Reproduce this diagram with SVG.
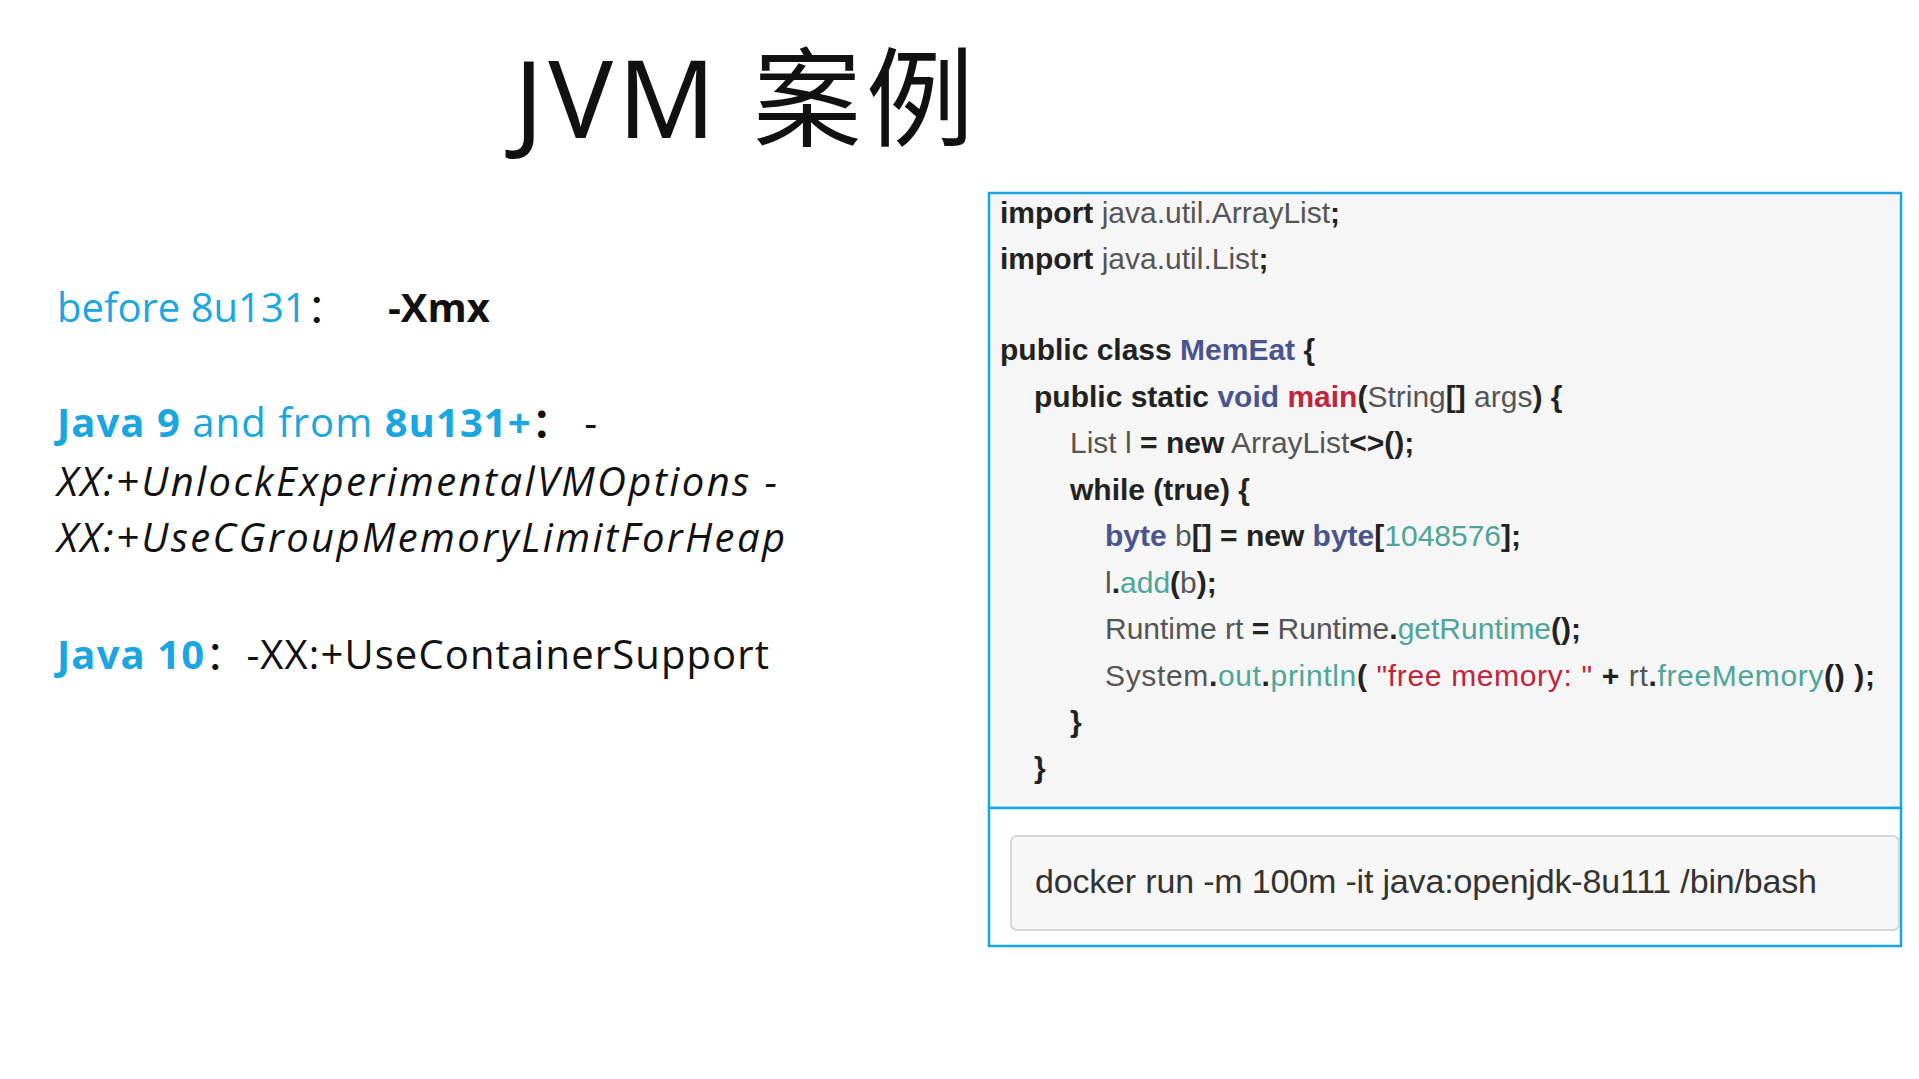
<svg xmlns="http://www.w3.org/2000/svg" width="1919" height="1079" viewBox="0 0 1919 1079">
<style>
.t{font-family:"Noto Sans","Noto Sans CJK SC",sans-serif}
.l{font-family:"Open Sans","Noto Sans CJK SC",sans-serif;font-size:40px}
.c{fill:#1aa6e0}
.k{font-family:"Liberation Sans",Arial,sans-serif;font-size:30px;fill:#555}
.b{font-weight:bold;fill:#222}
.p{fill:#4a5590;font-weight:bold}
.g{fill:#4fa59a}
.r{fill:#c0253a}
</style>
<rect width="1919" height="1079" fill="#fff"/>
<text class="t" x="514" y="138" font-size="108" fill="#111" textLength="460">JVM 案例</text>
<g id="left-text">
<text class="l" x="57" y="322"><tspan class="c">before 8u131</tspan><tspan fill="#111">：</tspan><tspan x="388" font-weight="bold" fill="#111">-Xmx</tspan></text>
<text class="l" x="57" y="437" textLength="540"><tspan class="c" font-weight="bold">Java 9</tspan><tspan class="c"> and from </tspan><tspan class="c" font-weight="bold">8u131+</tspan><tspan fill="#111" font-weight="bold">：</tspan><tspan fill="#111">  -</tspan></text>
<text class="l" x="57" y="496" font-style="italic" fill="#111" textLength="720">XX:+UnlockExperimentalVMOptions -</text>
<text class="l" x="57" y="552" font-style="italic" fill="#111" textLength="728">XX:+UseCGroupMemoryLimitForHeap</text>
<text class="l" x="57" y="669" textLength="712"><tspan class="c" font-weight="bold">Java 10</tspan><tspan fill="#111">：-XX:+UseContainerSupport</tspan></text>
</g>
<g id="code-box">
<rect x="989" y="193" width="912" height="615" fill="#f6f6f6" stroke="#1aa6e0" stroke-width="2.5"/>
<text class="k" x="1000" y="223"><tspan class="b">import</tspan> java.util.ArrayList<tspan class="b">;</tspan></text>
<text class="k" x="1000" y="269"><tspan class="b">import</tspan> java.util.List<tspan class="b">;</tspan></text>
<text class="k" x="1000" y="360"><tspan class="b">public class </tspan><tspan class="p">MemEat</tspan><tspan class="b"> {</tspan></text>
<text class="k" x="1034" y="407"><tspan class="b">public static </tspan><tspan class="p">void </tspan><tspan class="r" font-weight="bold">main</tspan><tspan class="b">(</tspan>String<tspan class="b">[]</tspan> args<tspan class="b">) {</tspan></text>
<text class="k" x="1070" y="453">List l <tspan class="b">= new</tspan> ArrayList<tspan class="b">&lt;&gt;();</tspan></text>
<text class="k" x="1070" y="500"><tspan class="b">while (true) {</tspan></text>
<text class="k" x="1105" y="546"><tspan class="p">byte </tspan>b<tspan class="b">[] = new </tspan><tspan class="p">byte</tspan><tspan class="b">[</tspan><tspan class="g">1048576</tspan><tspan class="b">];</tspan></text>
<text class="k" x="1105" y="593">l<tspan class="b">.</tspan><tspan class="g">add</tspan><tspan class="b">(</tspan>b<tspan class="b">);</tspan></text>
<text class="k" x="1105" y="639">Runtime rt <tspan class="b">=</tspan> Runtime<tspan class="b">.</tspan><tspan class="g">getRuntime</tspan><tspan class="b">();</tspan></text>
<text class="k" x="1105" y="686" textLength="770">System<tspan class="b">.</tspan><tspan class="g">out</tspan><tspan class="b">.</tspan><tspan class="g">println</tspan><tspan class="b">( </tspan><tspan class="r">"free memory: "</tspan><tspan class="b"> + </tspan>rt<tspan class="b">.</tspan><tspan class="g">freeMemory</tspan><tspan class="b">() );</tspan></text>
<text class="k" x="1070" y="732"><tspan class="b">}</tspan></text>
<text class="k" x="1034" y="778"><tspan class="b">}</tspan></text>
</g>
<g id="docker-box">
<rect x="989" y="808" width="912" height="138" fill="#fff" stroke="#1aa6e0" stroke-width="2.5"/>
<rect x="1011" y="836" width="888" height="94" rx="6" fill="#f7f7f7" stroke="#d6d6d6" stroke-width="2"/>
<text x="1035" y="893" font-family="Liberation Sans,Arial,sans-serif" font-size="34" fill="#333" textLength="782">docker run -m 100m -it java:openjdk-8u111 /bin/bash</text>
</g>
</svg>
